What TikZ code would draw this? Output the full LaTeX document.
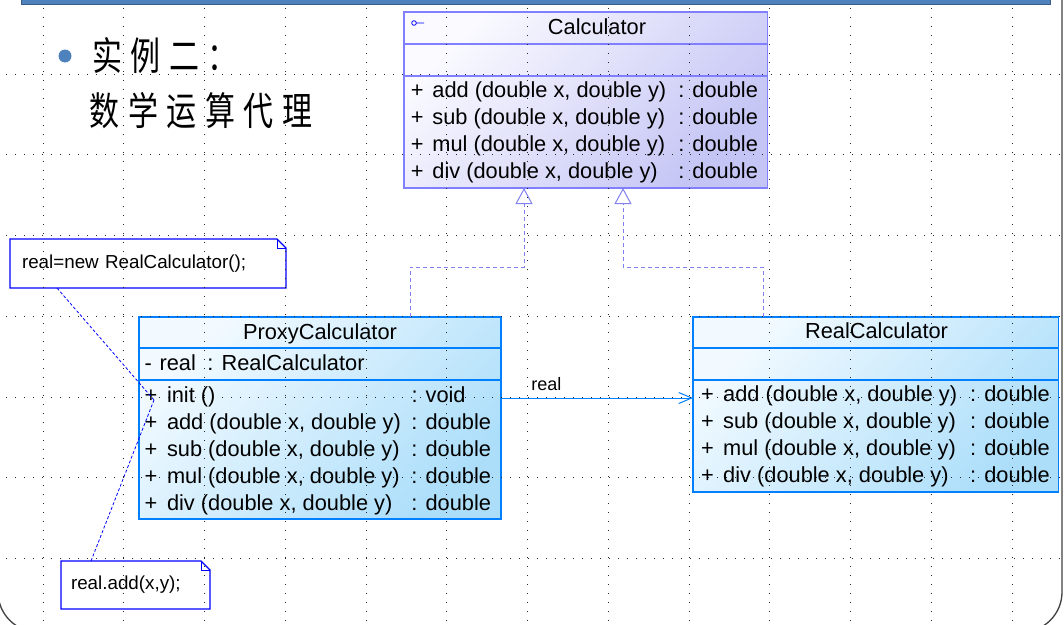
\documentclass[tikz,border=0pt]{standalone}
\usepackage{fontspec}
\setmainfont{Liberation Sans}
\newfontfamily\cjk{Noto Sans CJK SC}
\usetikzlibrary{arrows.meta}
\definecolor{calcblue}{RGB}{128,128,255}
\definecolor{calctop}{RGB}{250,250,255}
\definecolor{calcbot}{RGB}{196,196,245}
\definecolor{clsblue}{RGB}{0,128,255}
\definecolor{clstop}{RGB}{242,250,255}
\definecolor{clsbot}{RGB}{172,222,250}
\definecolor{noteblue}{RGB}{0,0,255}
\definecolor{realizeblue}{RGB}{128,128,240}
\definecolor{barblue}{RGB}{79,129,189}
\definecolor{bardark}{RGB}{56,93,138}

\begin{document}
\begin{tikzpicture}[x=1pt,y=-1pt]
\useasboundingbox (0,0) rectangle (1064,624);
\tikzstyle{classbox}=[rectangle,draw,line width=1.2pt,anchor=north west,inner sep=0pt,outer sep=0pt]
\tikzstyle{iface}=[classbox,draw=calcblue,top color=calctop,bottom color=calcbot,shading angle=45]
\tikzstyle{concrete}=[classbox,draw=clsblue,top color=clstop,bottom color=clsbot,shading angle=45]
\tikzstyle{clsname}=[anchor=base,inner sep=0pt,font=\fontsize{21.8}{27}\selectfont]
\tikzstyle{members}=[anchor=base west,inner sep=0pt,font=\fontsize{21.8}{27}\selectfont]
\tikzstyle{note}=[rectangle,anchor=north west,outer sep=0pt,inner ysep=0pt,align=left,font=\fontsize{18.8}{22}\selectfont]
\tikzstyle{noteline}=[draw=noteblue,line width=1.2pt]
\tikzstyle{anchorline}=[draw=noteblue,line width=0.8pt,dash pattern=on 3pt off 2pt]
\tikzstyle{heading}=[anchor=base west,inner sep=0pt,font=\cjk\fontsize{30}{36}\selectfont]
\tikzstyle{gridline}=[line width=1pt,black!85,dash pattern=on 1pt off 8pt]
%styles of the connectors
\tikzstyle{realize}=[draw=realizeblue,line width=1pt,dash pattern=on 4pt off 3pt,-{Triangle[open,length=16pt,width=17pt]}]
\tikzstyle{assoc}=[draw=clsblue,line width=1pt,-{Straight Barb[length=13pt,width=11pt]}]
%slide frame and title
\draw[black!75,line width=1.3pt,rounded corners=40pt] (-2,-40) -- (-2,632) -- (1062,632) -- (1062,-40);
\fill[barblue,draw=bardark] (21,-3) rectangle (1050,4);
\fill[barblue] (65,56) circle (6.5pt);
\node[heading] (head1) at (92,70) {\scalebox{1}[1.3]{实\kern8.5pt 例\kern8.5pt 二\kern8.5pt ：}};
\node[heading] (head2) at (89.5,125) {\scalebox{1}[1.3]{数\kern8.5pt 学\kern8.5pt 运\kern8.5pt 算\kern8.5pt 代\kern8.5pt 理}};
%the classes
\node[iface,minimum width=363.5pt,minimum height=176pt] (calc) at (404,12) {};
\draw[calcblue,line width=1.2pt] ([yshift=-32pt]calc.north west) -- ([yshift=-32pt]calc.north east);
\draw[calcblue,line width=1.2pt] ([yshift=-64pt]calc.north west) -- ([yshift=-64pt]calc.north east);
\draw[noteblue,line width=0.8pt] (414,23) circle (2.3pt) (416.3,23) -- (424,23);
\node[clsname] (calcname) at (597,34) {Calculator};
\node[members] (calcops) at (410.7,97.5) {\begin{tabular}[t]{@{}p{21.5pt}@{}p{246pt}@{}l@{}}
+ & add (double x, double y) & : double\\
+ & sub (double x, double y) & : double\\
+ & mul (double x, double y) & : double\\
+ & div (double x, double y) & : double
\end{tabular}};

\node[concrete,minimum width=362pt,minimum height=202pt] (proxy) at (139,317) {};
\draw[clsblue,line width=1.2pt] ([yshift=-31pt]proxy.north west) -- ([yshift=-31pt]proxy.north east);
\draw[clsblue,line width=1.2pt] ([yshift=-63pt]proxy.north west) -- ([yshift=-63pt]proxy.north east);
\node[clsname] (proxyname) at (320,339) {ProxyCalculator};
\node[members] (proxyattr) at (144.3,370) {\begin{tabular}[t]{@{}p{15pt}@{}p{48pt}@{}l@{}}
- & real & : RealCalculator
\end{tabular}};
\node[members] (proxyops) at (144.3,402) {\begin{tabular}[t]{@{}p{22.5pt}@{}p{244.5pt}@{}l@{}}
+ & init () & : void\\
+ & add (double x, double y) & : double\\
+ & sub (double x, double y) & : double\\
+ & mul (double x, double y) & : double\\
+ & div (double x, double y) & : double
\end{tabular}};

\node[concrete,minimum width=365.5pt,minimum height=175pt] (real) at (693,317) {};
\draw[clsblue,line width=1.2pt] ([yshift=-31pt]real.north west) -- ([yshift=-31pt]real.north east);
\draw[clsblue,line width=1.2pt] ([yshift=-63pt]real.north west) -- ([yshift=-63pt]real.north east);
\node[clsname] (realname) at (876.5,338) {RealCalculator};
\node[members] (realops) at (701,401) {\begin{tabular}[t]{@{}p{22pt}@{}p{247pt}@{}l@{}}
+ & add (double x, double y) & : double\\
+ & sub (double x, double y) & : double\\
+ & mul (double x, double y) & : double\\
+ & div (double x, double y) & : double
\end{tabular}};

%the notes
\node[note,minimum height=49pt,text width=252pt,inner xsep=12pt] (note1) at (10,239) {real=new RealCalculator();};
\draw[noteline] (note1.north west) -- ([xshift=-9pt]note1.north east) -- ([yshift=-9pt]note1.north east) -- (note1.south east) -- (note1.south west) -- cycle;
\draw[noteline,line width=0.8pt] ([xshift=-9pt]note1.north east) |- ([yshift=-9pt]note1.north east);
\node[note,minimum height=48pt,text width=129pt,inner xsep=10pt] (note2) at (61,561) {real.add(x,y);};
\draw[noteline] (note2.north west) -- ([xshift=-9pt]note2.north east) -- ([yshift=-9pt]note2.north east) -- (note2.south east) -- (note2.south west) -- cycle;
\draw[noteline,line width=0.8pt] ([xshift=-9pt]note2.north east) |- ([yshift=-9pt]note2.north east);

%the connectors
\coordinate (hook) at (154,400);
\draw[anchorline] ([xshift=47pt]note1.south west) -- (hook);
\draw[anchorline] ([xshift=30pt]note2.north west) -- (hook);
\draw[realize] ([xshift=271pt]proxy.north west) -- ++(0,-50) -| ([xshift=120pt]calc.south west);
\draw[realize] ([xshift=70pt]real.north west) -- ++(0,-50) -| ([xshift=219pt]calc.south west);
\draw[assoc] ([yshift=20pt]proxy.east) -- ([yshift=20pt]proxy.east -| real.west) node[pos=0.156,anchor=base west,yshift=8pt,inner sep=0pt,font=\fontsize{18}{22}\selectfont]{real};

%the grid
\foreach \gx in {0,...,12} \draw[gridline] (43+80.75*\gx,8) -- (43+80.75*\gx,624);
\foreach \gy in {0,...,6} \draw[gridline] (6,74+80.75*\gy) -- (1064,74+80.75*\gy);
\end{tikzpicture}
\end{document}
